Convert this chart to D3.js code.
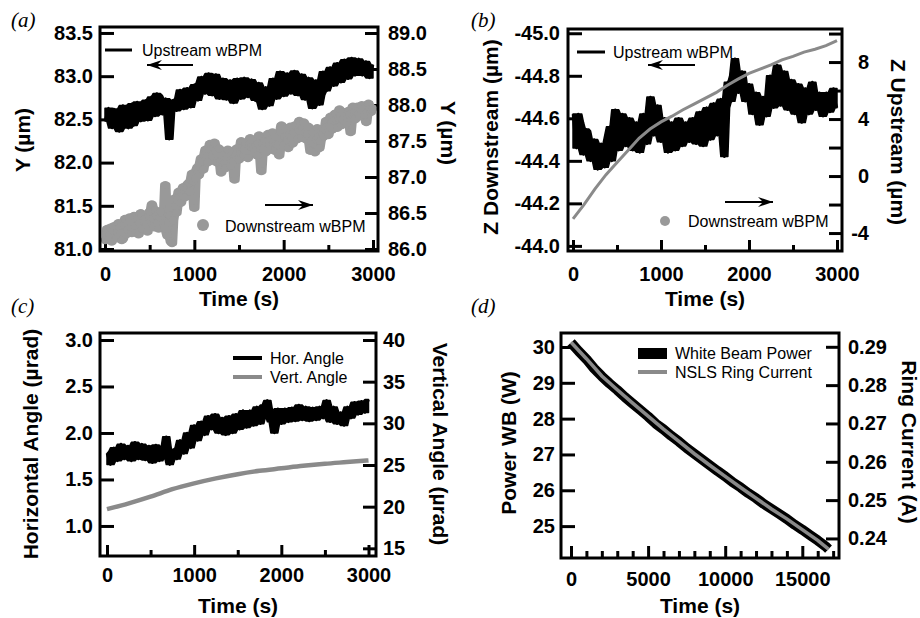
<!DOCTYPE html>
<html><head><meta charset="utf-8">
<script src="https://cdn.jsdelivr.net/npm/d3@7"></script>
<style>
body{margin:0;background:#fff;}
svg{display:block;}
</style></head><body>
<svg id="c" width="920" height="618"></svg>
<script>
// ---------------- DATA ----------------
// Panel (a) — Upstream (left axis), samples at t = 0,40,80,... and t = 20,60,100,...
const aUpStep = 40; // s
const aUpstream = [82.48,82.63,82.40,82.58,82.36,82.66,82.44,82.64,82.43,82.70,
 82.48,82.68,82.49,82.76,82.54,82.78,82.56,82.74,82.27,82.72,
 82.60,82.84,82.62,82.86,82.64,82.90,82.72,82.99,82.80,83.03,
 82.78,83.02,82.74,82.97,82.73,82.95,82.69,82.97,82.74,82.98,
 82.76,82.96,82.72,82.92,82.62,82.87,82.66,82.97,82.74,83.05,
 82.77,83.03,82.80,83.06,82.78,83.02,82.73,82.98,82.63,82.95,
 82.67,83.05,82.83,83.10,82.89,83.15,82.93,83.19,82.97,83.21,
 83.01,83.20,83.01,83.17,82.98,83.13];
const aUpstreamMid = [82.56,82.50,82.62,82.45,82.60,82.52,82.40,82.68,82.55,82.50,
 82.62,82.72,82.58,82.66,82.80,82.62,82.68,82.55,82.62,82.66,
 82.74,82.70,82.78,82.80,82.72,82.84,82.92,82.86,82.96,82.88,
 82.92,82.86,82.82,82.90,82.80,82.84,82.88,82.80,82.90,82.82,
 82.88,82.80,82.78,82.70,82.76,82.72,82.84,82.88,82.80,82.92,
 82.86,82.96,82.88,82.94,82.90,82.84,82.88,82.76,82.80,82.86,
 82.78,82.96,82.92,83.00,83.04,83.02,83.08,83.06,83.12,83.08,
 83.14,83.10,83.08,83.12,83.04];
// Downstream (right axis) scatter, t = 0,25,50,... and t = 12.5,37.5,...
const aDownStep = 25; // s
const aDownstream = [86.12,86.28,86.20,86.10,86.32,86.16,86.36,86.22,86.14,86.42,
 86.26,86.44,86.22,86.46,86.32,86.20,86.50,86.28,86.42,86.24,
 86.52,86.62,86.30,86.46,86.28,86.52,86.36,86.89,86.18,86.46,
 86.08,86.70,86.50,86.80,86.64,86.86,86.72,86.90,86.80,87.05,
 86.57,87.10,87.02,87.26,87.10,87.38,87.20,87.46,87.30,87.48,
 87.20,87.40,87.06,87.30,87.12,87.38,87.16,87.36,86.96,87.40,
 87.24,87.50,87.30,87.46,87.26,87.54,87.34,87.50,87.30,87.58,
 87.08,87.40,87.34,87.60,87.38,87.62,87.36,87.56,87.30,87.72,
 87.44,87.66,87.40,87.70,87.46,87.72,87.52,87.78,87.54,87.76,
 87.52,87.70,87.36,87.62,87.34,87.68,87.40,87.64,87.56,87.78,
 87.58,87.84,87.66,87.88,87.68,87.94,87.72,87.90,87.74,87.92,
 87.62,87.98,87.80,87.98,87.84,88.00,87.86,87.76,88.02,87.90,
 87.95];
const aDownstreamMid = [86.22,86.14,86.30,86.26,86.18,86.24,86.30,86.12,86.34,86.20,
 86.36,86.30,86.38,86.26,86.42,86.36,86.28,86.40,86.34,86.46,
 86.38,86.42,86.54,86.36,86.44,86.40,86.30,86.24,86.36,86.10,
 86.40,86.60,86.68,86.72,86.78,86.80,86.84,86.92,86.96,86.94,
 86.98,87.14,87.18,87.22,87.30,87.28,87.36,87.38,87.40,87.36,
 87.30,87.22,87.24,87.20,87.26,87.28,87.24,87.22,87.30,87.26,
 87.36,87.40,87.38,87.34,87.44,87.42,87.40,87.44,87.46,87.40,
 87.46,87.50,87.48,87.46,87.52,87.48,87.46,87.44,87.62,87.52,
 87.56,87.52,87.58,87.56,87.62,87.60,87.66,87.64,87.68,87.62,
 87.60,87.48,87.50,87.46,87.52,87.56,87.50,87.60,87.66,87.70,
 87.72,87.76,87.78,87.80,87.82,87.84,87.80,87.84,87.82,87.86,
 87.88,87.90,87.92,87.88,87.94,87.92,87.96,87.90,87.94,87.92];
const aLeftTicks = [81.0,81.5,82.0,82.5,83.0,83.5];
const aRightTicks = [86.0,86.5,87.0,87.5,88.0,88.5,89.0];

// Panel (b)
const bUpStep = 40;
const bUpstream = [-44.62,-44.46,-44.58,-44.43,-44.54,-44.40,-44.50,-44.36,-44.48,-44.37,
 -44.52,-44.40,-44.64,-44.45,-44.62,-44.47,-44.60,-44.45,-44.58,-44.44,
 -44.62,-44.48,-44.70,-44.52,-44.66,-44.49,-44.60,-44.44,-44.58,-44.45,
 -44.60,-44.47,-44.58,-44.49,-44.60,-44.48,-44.63,-44.47,-44.65,-44.50,
 -44.67,-44.52,-44.69,-44.42,-44.77,-44.68,-44.88,-44.72,-44.82,-44.68,
 -44.76,-44.62,-44.72,-44.57,-44.70,-44.61,-44.80,-44.65,-44.85,-44.66,
 -44.82,-44.64,-44.78,-44.62,-44.76,-44.58,-44.74,-44.62,-44.77,-44.64,
 -44.72,-44.61,-44.72,-44.63,-44.74,-44.65];
const bUpstreamMid = [-44.52,-44.62,-44.48,-44.55,-44.44,-44.47,-44.42,-44.45,-44.40,-44.46,
 -44.56,-44.50,-44.58,-44.54,-44.52,-44.56,-44.50,-44.52,-44.55,-44.50,
 -44.54,-44.62,-44.60,-44.58,-44.55,-44.56,-44.52,-44.54,-44.52,-44.50,
 -44.55,-44.52,-44.55,-44.53,-44.55,-44.52,-44.56,-44.58,-44.56,-44.60,
 -44.58,-44.62,-44.55,-44.65,-44.74,-44.80,-44.78,-44.74,-44.76,-44.70,
 -44.68,-44.66,-44.64,-44.63,-44.66,-44.70,-44.74,-44.72,-44.74,-44.70,
 -44.72,-44.70,-44.68,-44.70,-44.66,-44.68,-44.66,-44.70,-44.68,-44.66,
 -44.68,-44.66,-44.68,-44.70,-44.68];
const bDownStep = 125;
const bDownstream = [-3.0,-2.0,-0.9,0.1,0.95,1.8,2.65,3.3,3.8,4.2,4.65,5.05,5.45,
 5.85,6.35,6.8,7.2,7.5,7.8,8.15,8.4,8.7,8.9,9.15,9.5];
const bLeftTicks = [-45.0,-44.8,-44.6,-44.4,-44.2,-44.0];
const bRightTicks = [-4,-2,0,2,4,6,8,10];
const bRightLabels = [-4,0,4,8];

// Panel (c)
const cHorStep = 40;
const cHor = [1.78,1.66,1.84,1.70,1.88,1.72,1.86,1.70,1.90,1.72,
 1.88,1.71,1.86,1.68,1.87,1.70,1.84,1.96,1.66,1.82,
 1.72,1.92,1.78,2.00,1.84,2.08,1.92,2.12,1.98,2.18,
 2.04,2.20,2.00,2.16,1.98,2.18,2.00,2.20,2.04,2.24,
 2.06,2.24,2.08,2.28,2.10,2.30,2.35,2.12,2.00,2.26,
 2.10,2.26,2.12,2.27,2.13,2.30,2.14,2.28,2.13,2.27,
 2.14,2.28,2.16,2.35,2.12,2.28,2.10,2.22,2.08,2.28,
 2.16,2.33,2.20,2.34,2.22,2.36];
const cHorMid = [1.72,1.80,1.76,1.80,1.78,1.80,1.78,1.80,1.79,1.82,
 1.78,1.80,1.76,1.79,1.76,1.78,1.74,1.82,1.76,1.78,
 1.84,1.86,1.90,1.94,1.98,2.02,2.06,2.04,2.10,2.12,
 2.10,2.08,2.08,2.10,2.06,2.10,2.08,2.12,2.14,2.12,
 2.16,2.14,2.18,2.20,2.18,2.22,2.24,2.16,2.18,2.20,
 2.18,2.20,2.21,2.20,2.22,2.20,2.22,2.20,2.22,2.21,
 2.22,2.20,2.24,2.28,2.20,2.16,2.14,2.18,2.16,2.24,
 2.26,2.24,2.28,2.27,2.30];
const cVertStep = 250;
const cVert = [19.7,20.4,21.2,22.1,22.8,23.4,23.9,24.3,24.6,24.9,25.15,25.35,25.55];
const cLeftTicks = [1.0,1.5,2.0,2.5,3.0];
const cRightTicks = [15,20,25,30,35,40];

// Panel (d)
const dPowerTime = [0,500,1000,1500,2000,2500,3000,3500,4000,4500,5000,5500,6000,6500,7000,7500,8000,
 8500,9000,9500,10000,10500,11000,11500,12000,12500,13000,13500,14000,14500,15000,15500,16000,16500,16700];
const dPower = [30.12,29.88,29.66,29.40,29.18,28.98,28.80,28.60,28.42,28.24,28.06,27.86,27.70,27.52,27.36,27.18,27.02,
 26.86,26.70,26.54,26.39,26.22,26.08,25.92,25.78,25.62,25.48,25.34,25.20,25.04,24.90,24.75,24.60,24.44,24.36];
const dRingTime = [0,1000,2000,3000,4000,5000,6000,7000,8000,9000,10000,11000,12000,13000,14000,15000,16000,16700];
const dRing = [0.2912,0.2869,0.2824,0.2788,0.2753,0.2719,0.2685,0.2653,0.2621,0.2591,0.2562,0.2533,0.2505,0.2477,0.2451,0.2423,0.2395,0.2372];
const dLeftTicks = [25,26,27,28,29,30];
const dRightTicks = [0.24,0.25,0.26,0.27,0.28,0.29];

const xTicks3000 = [0,1000,2000,3000];
const xMinor3000 = [500,1500,2500];
const xTicksD = [0,5000,10000,15000];
const xMinorD = [1000,2000,3000,4000,6000,7000,8000,9000,11000,12000,13000,14000,16000,17000];

// ---------------- DRAWING ----------------
const svg = d3.select("#c");
const SANS = "'Liberation Sans', Arial, Helvetica, sans-serif";
const SERIF = "'Liberation Serif', 'Times New Roman', serif";
const GREY = "#8a8a8a";
const DOT = "#999999";

// merge two sample sets (main at k*step, mid at step/2 + k*step) into a time-sorted series
function merged(main, mid, step){
  const pts = main.map((v,i)=>[i*step, v]).concat(mid.map((v,i)=>[step/2 + i*step, v]));
  return pts.sort((p,q)=>p[0]-q[0]);
}
// local min / max of neighbouring samples: the band a dense trace sweeps out
function envelope(pts, w){
  return pts.map((p,i)=>{
    const s = pts.slice(Math.max(0,i-w), i+w+1).map(q=>q[1]);
    return [p[0], d3.min(s), d3.max(s)];
  });
}

function styleAxis(sel){
  sel.attr("font-size",20).attr("font-weight","bold").attr("font-family",SANS);
  sel.select(".domain").remove();
  sel.selectAll(".tick line").attr("stroke","#000").attr("stroke-width",3);
  sel.selectAll(".tick text").attr("fill","#000");
}

function panel(o){
  const g = svg.append("g");
  const x = d3.scaleLinear().domain(o.xDom).range([o.L,o.R]);
  const yl = d3.scaleLinear().domain(o.ylDom).range([o.B,o.T]);
  const yr = d3.scaleLinear().domain(o.yrDom).range([o.B,o.T]);
  const axes = g.append("g");
  axes.append("g").attr("transform",`translate(0,${o.B})`)
    .call(d3.axisBottom(x).tickValues(o.xMajor).tickSize(-o.majLen).tickPadding(o.xPad).tickFormat(d=>String(d)))
    .call(styleAxis);
  axes.append("g").attr("transform",`translate(0,${o.B})`)
    .call(d3.axisBottom(x).tickValues(o.xMinor).tickSize(-o.minLen).tickFormat(""))
    .call(styleAxis);
  axes.append("g").attr("transform",`translate(${o.L},0)`)
    .call(d3.axisLeft(yl).tickValues(o.ylTicks).tickSize(-o.ylLen).tickPadding(o.ylPad).tickFormat(o.ylFmt))
    .call(styleAxis);
  const ra = axes.append("g").attr("transform",`translate(${o.R},0)`)
    .call(d3.axisRight(yr).tickValues(o.yrTicks).tickSize(-o.yrLen).tickPadding(o.yrPad).tickFormat(o.yrFmt))
    .call(styleAxis);
  if(o.yrAnchorEnd){ ra.selectAll(".tick text").attr("text-anchor","end").attr("x",o.yrAnchorEnd); }
  const data = g.append("g");
  const t = g.append("g").attr("font-family",SANS).attr("font-weight","bold").attr("font-size",21).attr("fill","#000");
  t.append("text").attr("x",(o.L+o.R)/2).attr("y",o.xTitleY).attr("text-anchor","middle").text("Time (s)");
  t.append("text").attr("transform",`translate(${o.ylTitleX},${o.ylTitleY}) rotate(-90)`)
    .attr("text-anchor","middle").attr("dominant-baseline","central").text(o.ylTitle);
  t.append("text").attr("transform",`translate(${o.yrTitleX},${o.yrTitleY}) rotate(90)`)
    .attr("text-anchor","middle").attr("dominant-baseline","central").text(o.yrTitle);
  g.append("text").attr("x",o.letterX).attr("y",o.letterY).attr("font-family",SERIF).attr("font-style","italic")
    .attr("font-size",21).text(o.letter);
  return {g,data,x,yl,yr,o};
}

function frame(p){
  const o = p.o;
  p.g.append("rect").attr("x",o.L).attr("y",o.T).attr("width",o.R-o.L).attr("height",o.B-o.T)
    .attr("fill","none").attr("stroke","#000").attr("stroke-width",3);
}

function arrow(g,x1,x2,y,dir){
  g.append("line").attr("x1",x1).attr("x2",x2).attr("y1",y).attr("y2",y).attr("stroke","#000").attr("stroke-width",2);
  const hx = dir<0 ? x1 : x2, s = dir<0 ? 1 : -1;
  g.append("path").attr("d",`M${hx},${y} L${hx+s*15},${y-5} L${hx+s*10},${y} L${hx+s*15},${y+5} Z`).attr("fill","#000");
}

function legendText(g,x,y,txt){
  g.append("text").attr("x",x).attr("y",y).attr("dominant-baseline","central")
    .attr("font-family",SANS).attr("font-size",16).attr("fill","#000").text(txt);
}

function noisyLine(p, pts, yScale, w, color){
  const env = envelope(pts, 2);
  p.data.append("path").datum(env)
    .attr("d",d3.area().x(d=>p.x(d[0])).y0(d=>yScale(d[1])).y1(d=>yScale(d[2])))
    .attr("fill",color).attr("stroke",color).attr("stroke-width",1.5).attr("stroke-linejoin","round");
  p.data.append("path").datum(pts)
    .attr("d",d3.line().x(d=>p.x(d[0])).y(d=>yScale(d[1])))
    .attr("fill","none").attr("stroke",color).attr("stroke-width",w).attr("stroke-linejoin","round");
}

const f1 = d=>d.toFixed(1), f0 = d=>String(d), f2 = d=>d.toFixed(2);

// ----- Panel (a)
const pa = panel({L:100,R:378,T:27,B:251,xDom:[-56,3056],ylDom:[80.977,83.569],yrDom:[85.972,89.083],
  xMajor:xTicks3000,xMinor:xMinor3000,majLen:11,minLen:6,xPad:16,
  ylTicks:aLeftTicks,ylFmt:f1,ylLen:14,ylPad:7,yrTicks:aRightTicks,yrFmt:f1,yrLen:13,yrPad:10,
  xTitleY:306,ylTitle:"Y (µm)",ylTitleX:22,ylTitleY:140,yrTitle:"Y (µm)",yrTitleX:448,yrTitleY:133,
  letter:"(a)",letterX:11,letterY:27});
{
  const dpts = merged(aDownstream, aDownstreamMid, aDownStep);
  pa.data.append("path").datum(envelope(dpts,2))
    .attr("d",d3.area().x(d=>pa.x(d[0])).y0(d=>pa.yr(d[1])).y1(d=>pa.yr(d[2])))
    .attr("fill",DOT).attr("stroke",DOT).attr("stroke-width",6).attr("stroke-linejoin","round");
  pa.data.selectAll("circle").data(dpts).join("circle")
    .attr("cx",d=>pa.x(d[0])).attr("cy",d=>pa.yr(d[1])).attr("r",4).attr("fill",DOT);
}
noisyLine(pa, merged(aUpstream, aUpstreamMid, aUpStep), pa.yl, 2.6, "#000");
{
  const lg = pa.g.append("g");
  lg.append("line").attr("x1",105).attr("x2",132).attr("y1",50).attr("y2",50).attr("stroke","#000").attr("stroke-width",3);
  legendText(lg,142,50,"Upstream wBPM");
  arrow(lg,147,193,65,-1);
  lg.append("circle").attr("cx",203).attr("cy",225).attr("r",6).attr("fill",DOT);
  legendText(lg,225,226,"Downstream wBPM");
  arrow(lg,265,313,205,1);
}
frame(pa);

// ----- Panel (b)
const pb = panel({L:568,R:842,T:29,B:251,xDom:[-57,3057],ylDom:[-43.976,-45.020],yrDom:[-5.26,10.32],
  xMajor:xTicks3000,xMinor:xMinor3000,majLen:11,minLen:6,xPad:16,
  ylTicks:bLeftTicks,ylFmt:f1,ylLen:14,ylPad:8,yrTicks:bRightTicks,
  yrFmt:d=>bRightLabels.includes(d)?String(d):"",yrLen:13,yrPad:10,yrAnchorEnd:27,
  xTitleY:306,ylTitle:"Z Downstream (µm)",ylTitleX:490,ylTitleY:137,yrTitle:"Z Upstream (µm)",yrTitleX:898,yrTitleY:142,
  letter:"(b)",letterX:471,letterY:27});
noisyLine(pb, merged(bUpstream, bUpstreamMid, bUpStep), pb.yl, 2.6, "#000");
pb.data.append("path").datum(bDownstream)
  .attr("d",d3.line().x((d,i)=>pb.x(i*bDownStep)).y(d=>pb.yr(d)))
  .attr("fill","none").attr("stroke",GREY).attr("stroke-width",3);
{
  const lg = pb.g.append("g");
  lg.append("line").attr("x1",577).attr("x2",605).attr("y1",52).attr("y2",52).attr("stroke","#000").attr("stroke-width",3);
  legendText(lg,613,52,"Upstream wBPM");
  arrow(lg,648,695,65,-1);
  lg.append("circle").attr("cx",665).attr("cy",221).attr("r",5).attr("fill",DOT);
  legendText(lg,688,221,"Downstream wBPM");
  arrow(lg,725,773,202,1);
}
frame(pb);

// ----- Panel (c)
const pc = panel({L:100,R:376,T:333,B:556,xDom:[-80,3086],ylDom:[0.677,3.075],yrDom:[14.08,40.84],
  xMajor:xTicks3000,xMinor:xMinor3000,majLen:11,minLen:6,xPad:12,
  ylTicks:cLeftTicks,ylFmt:f1,ylLen:14,ylPad:7,yrTicks:cRightTicks,yrFmt:f0,yrLen:13,yrPad:7,
  xTitleY:613,ylTitle:"Horizontal Angle (µrad)",ylTitleX:30,ylTitleY:444,yrTitle:"Vertical Angle (µrad)",yrTitleX:440,yrTitleY:444,
  letter:"(c)",letterX:11,letterY:313});
pc.data.append("path").datum(cVert)
  .attr("d",d3.line().curve(d3.curveMonotoneX).x((d,i)=>pc.x(i*cVertStep)).y(d=>pc.yr(d)))
  .attr("fill","none").attr("stroke",GREY).attr("stroke-width",4.5);
noisyLine(pc, merged(cHor, cHorMid, cHorStep), pc.yl, 2.6, "#000");
{
  const lg = pc.g.append("g");
  lg.append("line").attr("x1",233).attr("x2",262).attr("y1",358).attr("y2",358).attr("stroke","#000").attr("stroke-width",4);
  legendText(lg,270,358,"Hor. Angle");
  lg.append("line").attr("x1",233).attr("x2",262).attr("y1",377).attr("y2",377).attr("stroke",GREY).attr("stroke-width",4);
  legendText(lg,270,377,"Vert. Angle");
}
frame(pc);

// ----- Panel (d)
const pd = panel({L:561,R:839,T:333,B:558,xDom:[-648,17380],ylDom:[24.11,30.39],yrDom:[0.2349,0.2936],
  xMajor:xTicksD,xMinor:xMinorD,majLen:12,minLen:7,xPad:14,
  ylTicks:dLeftTicks,ylFmt:f0,ylLen:14,ylPad:6,yrTicks:dRightTicks,yrFmt:f2,yrLen:13,yrPad:9,
  xTitleY:613,ylTitle:"Power WB (W)",ylTitleX:508,ylTitleY:443,yrTitle:"Ring Current (A)",yrTitleX:909,yrTitleY:442,
  letter:"(d)",letterX:471,letterY:313});
pd.data.append("path").datum(dPower)
  .attr("d",d3.line().x((d,i)=>pd.x(dPowerTime[i])).y(d=>pd.yl(d)))
  .attr("fill","none").attr("stroke","#000").attr("stroke-width",10).attr("stroke-linejoin","round");
pd.data.append("path").datum(dRing)
  .attr("d",d3.line().x((d,i)=>pd.x(dRingTime[i])).y(d=>pd.yr(d)))
  .attr("fill","none").attr("stroke",GREY).attr("stroke-width",3.5);
{
  const lg = pd.g.append("g");
  lg.append("rect").attr("x",638).attr("y",348).attr("width",29).attr("height",11).attr("fill","#000");
  legendText(lg,675,353,"White Beam Power");
  lg.append("line").attr("x1",638).attr("x2",667).attr("y1",372).attr("y2",372).attr("stroke",GREY).attr("stroke-width",4);
  legendText(lg,675,372,"NSLS Ring Current");
}
frame(pd);
</script>
</body></html>
